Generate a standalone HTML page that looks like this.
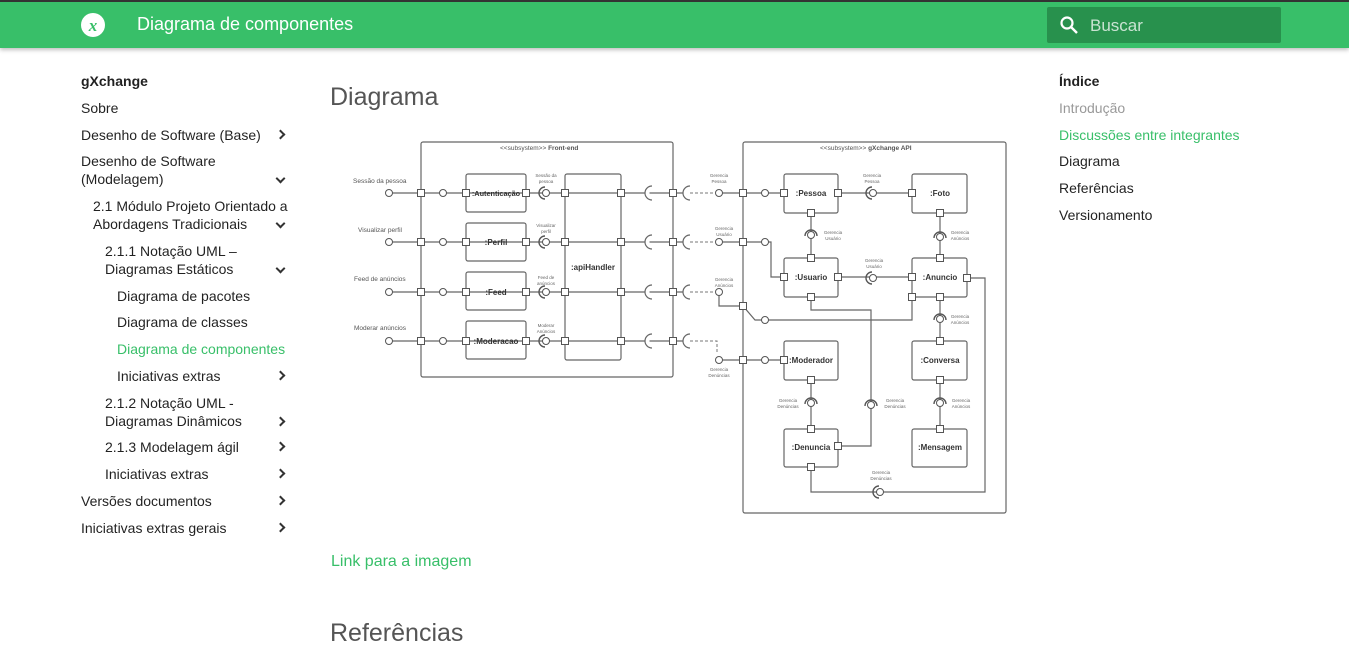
<!DOCTYPE html>
<html><head><meta charset="utf-8"><style>
*{margin:0;padding:0;box-sizing:border-box}
body{width:1349px;height:625px;overflow:hidden;background:#fff;font-family:"Liberation Sans",sans-serif;position:relative;color:rgba(0,0,0,.87)}
.hdr{position:absolute;left:0;top:0;width:1349px;height:48px;background:#38bf69;border-top:2px solid #333;box-shadow:0 2px 4px rgba(0,0,0,.25)}
.t{position:absolute;font-size:14px;line-height:18px;white-space:nowrap}
.chev{position:absolute;left:277px;width:7px;height:7px;border-right:2px solid #333;border-bottom:2px solid #333}
.r{transform:rotate(-45deg)}.d{transform:rotate(45deg)}
.g{color:#38bf69}
</style></head><body>
<div class="hdr">
 <svg style="position:absolute;left:80px;top:10px" width="26" height="26" viewBox="0 0 26 26"><circle cx="13" cy="13" r="12" fill="#fff"/><text x="13" y="19" font-size="17" font-style="italic" font-weight="bold" fill="#38bf69" text-anchor="middle" font-family="Liberation Serif">x</text></svg>
 <div style="position:absolute;left:137px;top:12px;color:#fff;font-size:18px">Diagrama de componentes</div>
 <div style="position:absolute;left:1047px;top:5px;width:234px;height:36px;background:#28914d;border-radius:2px">
  <svg style="position:absolute;left:12px;top:8px" width="20" height="20" viewBox="0 0 20 20"><circle cx="8" cy="8" r="5.5" stroke="#fff" stroke-width="2.2" fill="none"/><line x1="12" y1="12" x2="18" y2="18" stroke="#fff" stroke-width="2.4"/></svg>
  <div style="position:absolute;left:43px;top:9px;color:rgba(255,255,255,.75);font-size:17px">Buscar</div>
 </div>
</div>

<div class="t" style="left:81px;top:72px;font-weight:bold">gXchange</div>
<div class="t" style="left:81px;top:99px">Sobre</div>
<div class="t" style="left:81px;top:126px">Desenho de Software (Base)</div><div class="chev r" style="top:131px"></div>
<div class="t" style="left:81px;top:152px">Desenho de Software<br>(Modelagem)</div><div class="chev d" style="top:175px"></div>
<div class="t" style="left:93px;top:197px">2.1 Módulo Projeto Orientado a<br>Abordagens Tradicionais</div><div class="chev d" style="top:220px"></div>
<div class="t" style="left:105px;top:242px">2.1.1 Notação UML –<br>Diagramas Estáticos</div><div class="chev d" style="top:265px"></div>
<div class="t" style="left:117px;top:287px">Diagrama de pacotes</div>
<div class="t" style="left:117px;top:313px">Diagrama de classes</div>
<div class="t g" style="left:117px;top:340px">Diagrama de componentes</div>
<div class="t" style="left:117px;top:367px">Iniciativas extras</div><div class="chev r" style="top:372px"></div>
<div class="t" style="left:105px;top:394px">2.1.2 Notação UML -<br>Diagramas Dinâmicos</div><div class="chev r" style="top:418px"></div>
<div class="t" style="left:105px;top:438px">2.1.3 Modelagem ágil</div><div class="chev r" style="top:443px"></div>
<div class="t" style="left:105px;top:465px">Iniciativas extras</div><div class="chev r" style="top:470px"></div>
<div class="t" style="left:81px;top:492px">Versões documentos</div><div class="chev r" style="top:497px"></div>
<div class="t" style="left:81px;top:519px">Iniciativas extras gerais</div><div class="chev r" style="top:524px"></div>

<div class="t" style="left:1059px;top:72px;font-weight:bold">Índice</div>
<div class="t" style="left:1059px;top:99px;color:#999">Introdução</div>
<div class="t g" style="left:1059px;top:126px">Discussões entre integrantes</div>
<div class="t" style="left:1059px;top:152px">Diagrama</div>
<div class="t" style="left:1059px;top:179px">Referências</div>
<div class="t" style="left:1059px;top:206px">Versionamento</div>

<div style="position:absolute;left:330px;top:83px;font-size:25px;color:#555">Diagrama</div>
<div class="t g" style="left:331px;top:552px;font-size:16px;line-height:20px">Link para a imagem</div>
<div style="position:absolute;left:330px;top:619px;font-size:25px;color:#555">Referências</div>

<svg style="position:absolute;left:0;top:0" width="1349" height="625" font-family="Liberation Sans">
<defs>
<g id="sq"><rect x="-3.5" y="-3.5" width="7" height="7" fill="#fff" stroke="#555" stroke-width="1"/></g>
<g id="ci"><circle r="3.5" fill="#fff" stroke="#555" stroke-width="1"/></g>
<g id="bsh"><path d="M-1,-6 A6,6 0 0,0 -1,6" fill="none" stroke="#555" stroke-width="1.4"/><circle r="3.5" fill="#fff" stroke="#555"/></g>
<g id="bsv"><path d="M-6,-1 A6,6 0 0,0 6,-1" fill="none" stroke="#555" stroke-width="1.4" transform="rotate(180)"/><circle r="3.5" fill="#fff" stroke="#555"/></g>
</defs>
<g stroke="#666" stroke-width="1.2" fill="none">
<rect x="421" y="142" width="252" height="235" rx="2"/>
<rect x="743" y="142" width="263" height="371" rx="2"/>
<rect x="466" y="174" width="60" height="38" rx="2"/><rect x="466" y="223" width="60" height="38" rx="2"/>
<rect x="466" y="272" width="60" height="38" rx="2"/><rect x="466" y="321" width="60" height="38" rx="2"/>
<rect x="565" y="174" width="56" height="186" rx="2"/>
<rect x="784" y="174" width="54" height="39" rx="2"/><rect x="912" y="174" width="55" height="39" rx="2"/>
<rect x="784" y="258" width="54" height="39" rx="2"/><rect x="912" y="258" width="55" height="39" rx="2"/>
<rect x="784" y="341" width="54" height="39" rx="2"/><rect x="912" y="341" width="55" height="39" rx="2"/>
<rect x="784" y="429" width="54" height="38" rx="2"/><rect x="912" y="429" width="55" height="38" rx="2"/>
<path d="M389,193H688M389,242H688M389,292H688M389,341H688"/>
<path d="M719,193H784M719,242H771V277H784M719,292V306H743L755,320H912V297M719,360H784"/>
<path d="M838,193H912M811,213V258M940,213V258M838,277H912M940,297V341M940,380V429M811,380V429"/>
<path d="M811,297V310H871V446H838M967,278H985V492H811V467"/>
</g>
<g stroke="#777" stroke-width="1" fill="none" stroke-dasharray="3,2">
<path d="M690,193H714M690,242H714M690,292H714M690,341H717V354"/>
</g>
<g fill="#fff" stroke="#fff"><rect x="684" y="185" width="4" height="16"/><rect x="684" y="234" width="4" height="16"/><rect x="684" y="284" width="4" height="16"/><rect x="684" y="333" width="4" height="16"/>
<rect x="645" y="185" width="4" height="16"/><rect x="645" y="234" width="4" height="16"/><rect x="645" y="284" width="4" height="16"/><rect x="645" y="333" width="4" height="16"/></g>
<path d="M652,186 A7,7 0 0,0 652,200M652,235 A7,7 0 0,0 652,249M652,285 A7,7 0 0,0 652,299M652,334 A7,7 0 0,0 652,348M690,186 A7,7 0 0,0 690,200M690,235 A7,7 0 0,0 690,249M690,285 A7,7 0 0,0 690,299M690,334 A7,7 0 0,0 690,348" stroke="#666" stroke-width="1.2" fill="none"/>
<g>
<use href="#ci" x="389" y="193"/><use href="#ci" x="389" y="242"/><use href="#ci" x="389" y="292"/><use href="#ci" x="389" y="341"/>
<use href="#ci" x="443" y="193"/><use href="#ci" x="443" y="242"/><use href="#ci" x="443" y="292"/><use href="#ci" x="443" y="341"/>
<use href="#sq" x="421" y="193"/><use href="#sq" x="421" y="242"/><use href="#sq" x="421" y="292"/><use href="#sq" x="421" y="341"/>
<use href="#sq" x="466" y="193"/><use href="#sq" x="466" y="242"/><use href="#sq" x="466" y="292"/><use href="#sq" x="466" y="341"/>
<use href="#sq" x="526" y="193"/><use href="#sq" x="526" y="242"/><use href="#sq" x="526" y="292"/><use href="#sq" x="526" y="341"/>
<use href="#bsh" x="546" y="193"/><use href="#bsh" x="546" y="242"/><use href="#bsh" x="546" y="292"/><use href="#bsh" x="546" y="341"/>
<use href="#sq" x="565" y="193"/><use href="#sq" x="565" y="242"/><use href="#sq" x="565" y="292"/><use href="#sq" x="565" y="341"/>
<use href="#sq" x="621" y="193"/><use href="#sq" x="621" y="242"/><use href="#sq" x="621" y="292"/><use href="#sq" x="621" y="341"/>
<use href="#sq" x="673" y="193"/><use href="#sq" x="673" y="242"/><use href="#sq" x="673" y="292"/><use href="#sq" x="673" y="341"/>
<use href="#ci" x="719" y="193"/><use href="#ci" x="719" y="242"/><use href="#ci" x="719" y="292"/><use href="#ci" x="719" y="360"/>
<use href="#sq" x="743" y="193"/><use href="#sq" x="743" y="242"/><use href="#sq" x="743" y="306"/><use href="#sq" x="743" y="360"/>
<use href="#ci" x="765" y="193"/><use href="#ci" x="765" y="242"/><use href="#ci" x="765" y="320"/><use href="#ci" x="765" y="360"/>
<use href="#sq" x="784" y="193"/><use href="#sq" x="784" y="277"/><use href="#sq" x="784" y="360"/>
<use href="#sq" x="838" y="193"/><use href="#bsh" x="873" y="193"/><use href="#sq" x="912" y="193"/>
<use href="#sq" x="811" y="213"/><use href="#bsv" x="811" y="235"/><use href="#sq" x="811" y="258"/>
<use href="#sq" x="940" y="213"/><use href="#bsv" x="940" y="237"/><use href="#sq" x="940" y="258"/>
<use href="#sq" x="838" y="277"/><use href="#bsh" x="873" y="278"/><use href="#sq" x="912" y="277"/>
<use href="#sq" x="811" y="297"/><use href="#sq" x="912" y="297"/><use href="#sq" x="940" y="297"/><use href="#sq" x="967" y="278"/>
<use href="#bsv" x="940" y="319"/><use href="#sq" x="940" y="341"/>
<use href="#sq" x="811" y="380"/><use href="#bsv" x="811" y="403"/><use href="#sq" x="811" y="429"/>
<use href="#sq" x="940" y="380"/><use href="#bsv" x="940" y="403"/><use href="#sq" x="940" y="429"/>
<use href="#bsv" x="871" y="405"/><use href="#sq" x="838" y="446"/><use href="#sq" x="811" y="467"/>
<use href="#bsh" x="880" y="492"/>
</g>
<g font-size="8" font-weight="bold" fill="#333" text-anchor="middle">
<text x="496" y="196" font-size="7.3">:Autenticação</text><text x="496" y="245">:Perfil</text><text x="496" y="295">:Feed</text><text x="496" y="344">:Moderacao</text>
<text x="593" y="270">:apiHandler</text>
<text x="811" y="196">:Pessoa</text><text x="940" y="196">:Foto</text><text x="811" y="280">:Usuario</text><text x="940" y="280">:Anuncio</text>
<text x="811" y="363">:Moderador</text><text x="940" y="363">:Conversa</text><text x="811" y="450">:Denuncia</text><text x="940" y="450">:Mensagem</text>
</g>
<g font-size="6.5" fill="#555">
<text x="500" y="150">&lt;&lt;subsystem&gt;&gt; <tspan font-weight="bold">Front-end</tspan></text>
<text x="820" y="150">&lt;&lt;subsystem&gt;&gt; <tspan font-weight="bold">gXchange API</tspan></text>
<text x="353" y="183">Sessão da pessoa</text><text x="358" y="232">Visualizar perfil</text><text x="354" y="281">Feed de anúncios</text><text x="354" y="330">Moderar anúncios</text>
</g>
<g font-size="4.5" fill="#666" text-anchor="middle">
<text x="546" y="177">Sessão da</text><text x="546" y="183">pessoa</text>
<text x="546" y="227">Visualizar</text><text x="546" y="233">perfil</text>
<text x="546" y="279">Feed de</text><text x="546" y="285">anúncios</text>
<text x="546" y="327">Moderar</text><text x="546" y="333">Anúncios</text>
<text x="719" y="177">Gerencia</text><text x="719" y="183">Pessoa</text>
<text x="724" y="230">Gerencia</text><text x="724" y="236">Usuário</text>
<text x="724" y="281">Gerencia</text><text x="724" y="287">Anúncios</text>
<text x="719" y="371">Gerencia</text><text x="719" y="377">Denúncias</text>
<text x="872" y="177">Gerencia</text><text x="872" y="183">Pessoa</text>
<text x="833" y="234">Gerencia</text><text x="833" y="240">Usuário</text>
<text x="960" y="234">Gerencia</text><text x="960" y="240">Anúncios</text>
<text x="874" y="262">Gerencia</text><text x="874" y="268">Usuário</text>
<text x="960" y="318">Gerencia</text><text x="960" y="324">Anúncios</text>
<text x="788" y="402">Gerencia</text><text x="788" y="408">Denúncias</text>
<text x="895" y="402">Gerencia</text><text x="895" y="408">Denúncias</text>
<text x="961" y="402">Gerencia</text><text x="961" y="408">Anúncios</text>
<text x="881" y="474">Gerencia</text><text x="881" y="480">Denúncias</text>
</g>
</svg>
</body></html>
